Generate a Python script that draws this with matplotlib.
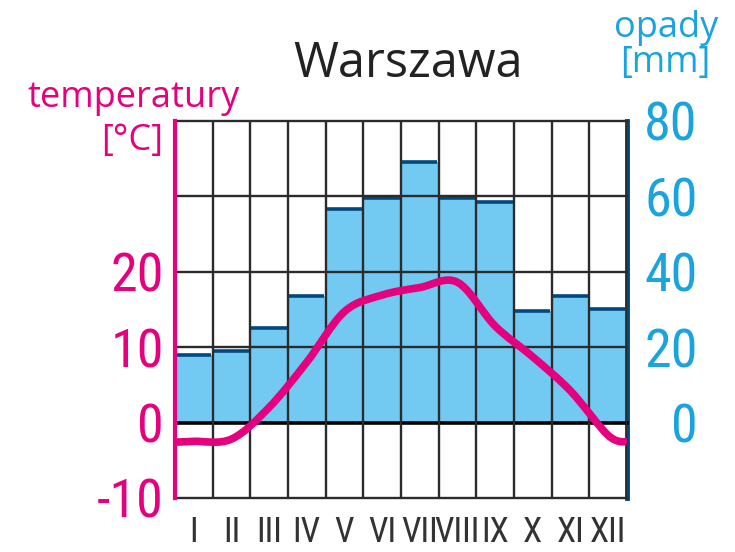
import numpy as np
import matplotlib
matplotlib.use("Agg")
import matplotlib.pyplot as plt
from matplotlib.path import Path
from matplotlib.patches import PathPatch

# monthly data
months = ["I", "II", "III", "IV", "V", "VI", "VII", "VIII", "IX", "X", "XI", "XII"]
precip = [18, 19, 25, 33.5, 56.5, 59.5, 69, 59.5, 58.5, 29.5, 33.5, 30]
temp = [-2.5, -2.2, 2.0, 8.0, 14.7, 16.9, 17.9, 18.6, 12.8, 8.7, 4.2, -1.7]
temp_start, temp_end = -2.6, -2.6   # curve values at the left/right border

PINK = "#e5007d"
CYAN = "#1aa3df"
BAR = "#72c9f2"
BARTOP = "#00497f"
GRID = "#2b2b2b"
COND = "Roboto Condensed"
SANS = "Open Sans"

x = np.arange(1, 13)

fig = plt.figure(figsize=(7.35, 5.52), dpi=100)
ax = fig.add_axes([0.238, 0.098, 0.615, 0.683])
ax2 = ax.twinx()
ax.set_zorder(ax2.get_zorder() + 1)
ax.patch.set_visible(False)

# precipitation bars
ax2.bar(x, precip, width=1.0, color=BAR, edgecolor="none", zorder=1)
ax2.hlines(precip, x - 0.47, x + 0.47, color=BARTOP, lw=2.6, zorder=2)

# grid
for v in range(-20, 81, 20):
    ax2.axhline(v, color="black" if v == 0 else GRID, lw=2.6 if v == 0 else 1.7,
                zorder=3, clip_on=False)
for b in np.arange(0.5, 13, 1):
    ax2.axvline(b, color=GRID, lw=1.7, zorder=3)

ax.set_xlim(0.5, 12.5)
ax.set_ylim(-10, 40)
ax2.set_ylim(-20, 80)

# temperature curve (smooth path through the monthly points)
px = np.concatenate([[0.5], x, [12.5]])
py = np.concatenate([[temp_start], temp, [temp_end]])
pts = np.column_stack([px, py])
verts = [pts[0]]
codes = [Path.MOVETO]
k = 1 / 6
for i in range(len(pts) - 1):
    p0 = pts[max(i - 1, 0)]
    p1 = pts[i]
    p2 = pts[i + 1]
    p3 = pts[min(i + 2, len(pts) - 1)]
    c1 = p1 + (p2 - p0) * k
    c2 = p2 - (p3 - p1) * k
    verts += [c1, c2, p2]
    codes += [Path.CURVE4] * 3
ax.add_patch(PathPatch(Path(verts, codes), facecolor="none", edgecolor=PINK,
                       lw=5.5, capstyle="butt", zorder=5))

# spines
for s in ["top", "bottom", "right"]:
    ax.spines[s].set_visible(False)
for s in ["top", "bottom", "left"]:
    ax2.spines[s].set_visible(False)
ax.spines["left"].set_color(PINK)
ax.spines["left"].set_linewidth(3)
ax2.spines["right"].set_color(BARTOP)
ax2.spines["right"].set_linewidth(3.5)

# ticks
ax.set_xticks(x)
ax.set_xticklabels(months, family=COND, fontsize=25, color="#333333")
ax.tick_params(axis="x", length=0, pad=13)
ax2.tick_params(axis="x", length=0)
ax.set_yticks([-10, 0, 10, 20])
ax.set_yticklabels(["-10", "0", "10", "20"], family=COND, fontsize=39, color=PINK)
ax.tick_params(axis="y", length=0, pad=8)
ax2.set_yticks([0, 20, 40, 60, 80])
ax2.set_yticklabels(["0", "20", "40", "60", "80"], family=COND, fontsize=39,
                    color=CYAN, ha="right")
ax2.tick_params(axis="y", length=0, pad=51)

# titles
fig.text(0.555, 1 - 77 / 552, "Warszawa", family=SANS, fontsize=35, color="#222222",
         ha="center", va="baseline")
fig.text(240 / 735, 1 - 107 / 552, "temperatury", family=SANS, fontsize=26, color=PINK,
         ha="right", va="baseline")
fig.text(163 / 735, 1 - 150 / 552, "[°C]", family=SANS, fontsize=26, color=PINK,
         ha="right", va="baseline")
fig.text(718 / 735, 1 - 37 / 552, "opady", family=SANS, fontsize=26, color=CYAN,
         ha="right", va="baseline")
fig.text(710 / 735, 1 - 72 / 552, "[mm]", family=SANS, fontsize=26, color=CYAN,
         ha="right", va="baseline")

fig.savefig("out.png", dpi=100)
